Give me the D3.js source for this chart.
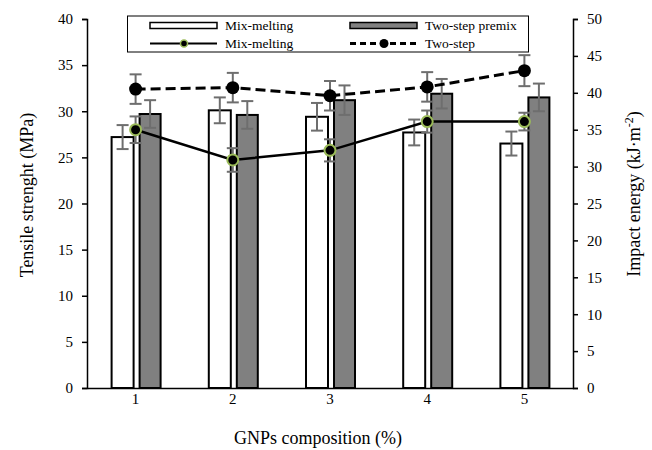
<!DOCTYPE html>
<html>
<head>
<meta charset="utf-8">
<script src="https://cdn.jsdelivr.net/npm/d3@7"></script>
<style>
  body { margin: 0; background: #fff; }
</style>
</head>
<body>
<div id="plot"></div>
<script>
// data
const categories = ["1", "2", "3", "4", "5"];
const mixBar = [27.2, 30.1, 29.4, 27.7, 26.5];
const mixBarErr = [1.3, 1.4, 1.5, 1.4, 1.3];
const twoBar = [29.7, 29.6, 31.2, 31.9, 31.5];
const twoBarErr = [1.5, 1.5, 1.6, 1.6, 1.5];
const mixLine = [35.0, 30.9, 32.2, 36.1, 36.1];
const mixLineErr = [1.8, 1.6, 1.5, 1.5, 1.2];
const twoLine = [40.5, 40.7, 39.6, 40.8, 43.0];
const twoLineErr = [2.0, 2.0, 2.0, 2.0, 2.1];
const leftTicks = [0, 5, 10, 15, 20, 25, 30, 35, 40];
const rightTicks = [0, 5, 10, 15, 20, 25, 30, 35, 40, 45, 50];

const width = 652;
const height = 450;
const margin = {top: 19, right: 79, bottom: 62, left: 87};
const serif = "'Liberation Serif', 'Times New Roman', Times, serif";

const svg = d3.select("div#plot")
    .append("svg")
    .attr("width", width)
    .attr("height", height);

const x = d3.scaleBand()
    .domain(categories)
    .range([margin.left, width - margin.right]);

const yL = d3.scaleLinear().domain([0, 40]).range([height - margin.bottom, margin.top]);
const yR = d3.scaleLinear().domain([0, 50]).range([height - margin.bottom, margin.top]);

const grey = "#808080";
const errColor = "#6e6e6e";
const green = "#9bbb59";
const cx = d => x(d) + x.bandwidth() / 2;

// bars
const bars = svg.append("g");
bars.selectAll("rect.mix")
    .data(categories)
    .enter()
    .append("rect")
    .attr("x", d => cx(d) - 24)
    .attr("width", 22)
    .attr("y", (d, i) => yL(mixBar[i]))
    .attr("height", (d, i) => yL(0) - yL(mixBar[i]))
    .style("fill", "#fff")
    .style("stroke", "#000")
    .style("stroke-width", 2);

bars.selectAll("rect.two")
    .data(categories)
    .enter()
    .append("rect")
    .attr("x", d => cx(d) + 4)
    .attr("width", 21)
    .attr("y", (d, i) => yL(twoBar[i]))
    .attr("height", (d, i) => yL(0) - yL(twoBar[i]))
    .style("fill", grey)
    .style("stroke", "#000")
    .style("stroke-width", 2);

// error bar helper
function errorBars(xs, vals, errs, scale, cap) {
    const g = svg.append("g")
        .style("stroke", errColor)
        .style("stroke-width", 2);
    vals.forEach(function(v, i) {
        const xx = xs[i];
        const top = scale(v + errs[i]);
        const bot = scale(v - errs[i]);
        g.append("line").attr("x1", xx).attr("x2", xx).attr("y1", top).attr("y2", bot);
        g.append("line").attr("x1", xx - cap).attr("x2", xx + cap).attr("y1", top).attr("y2", top);
        g.append("line").attr("x1", xx - cap).attr("x2", xx + cap).attr("y1", bot).attr("y2", bot);
    });
}

errorBars(categories.map(d => cx(d) - 13), mixBar, mixBarErr, yL, 6);
errorBars(categories.map(d => cx(d) + 14.5), twoBar, twoBarErr, yL, 6);
errorBars(categories.map(cx), mixLine, mixLineErr, yR, 6);
errorBars(categories.map(cx), twoLine, twoLineErr, yR, 6);

// lines
const lineGen = scale => d3.line()
    .x((d, i) => cx(categories[i]))
    .y(d => scale(d));

svg.append("path")
    .datum(mixLine)
    .attr("d", lineGen(yR))
    .style("fill", "none")
    .style("stroke", "#000")
    .style("stroke-width", 2.5);

svg.append("path")
    .datum(twoLine)
    .attr("d", lineGen(yR))
    .style("fill", "none")
    .style("stroke", "#000")
    .style("stroke-width", 3)
    .style("stroke-dasharray", "10,5");

svg.append("g")
    .selectAll("circle")
    .data(mixLine)
    .enter()
    .append("circle")
    .attr("cx", (d, i) => cx(categories[i]))
    .attr("cy", d => yR(d))
    .attr("r", 5.5)
    .style("fill", "#000")
    .style("stroke", green)
    .style("stroke-width", 2);

svg.append("g")
    .selectAll("circle")
    .data(twoLine)
    .enter()
    .append("circle")
    .attr("cx", (d, i) => cx(categories[i]))
    .attr("cy", d => yR(d))
    .attr("r", 6.5)
    .style("fill", "#000");

// axes
const leftAxis = svg.append("g")
    .attr("transform", `translate(${margin.left},0)`)
    .call(d3.axisLeft(yL).tickValues(leftTicks).tickSize(5).tickPadding(9));

const rightAxis = svg.append("g")
    .attr("transform", `translate(${width - margin.right},0)`)
    .call(d3.axisRight(yR).tickValues(rightTicks).tickSize(5).tickPadding(9));

const bottomAxis = svg.append("g")
    .attr("transform", `translate(0,${height - margin.bottom})`)
    .call(d3.axisBottom(x).tickSize(0).tickPadding(5));

[leftAxis, rightAxis, bottomAxis].forEach(function(a) {
    a.attr("font-family", null).attr("font-size", null);
    a.selectAll("text").style("font-size", "15px").style("fill", "#000");
    a.select(".domain").style("stroke", "#000").style("stroke-width", 1.5);
    a.selectAll(".tick line").style("stroke", "#000").style("stroke-width", 1.5);
});

// axis titles
svg.append("text")
    .attr("transform", "translate(33,195) rotate(-90)")
    .attr("text-anchor", "middle")
    .style("font-size", "18px")
    .text("Tensile strenght (MPa)");

const rt = svg.append("text")
    .attr("transform", "translate(640,194) rotate(-90)")
    .attr("text-anchor", "middle")
    .style("font-size", "18px");
rt.append("tspan").text("Impact energy (kJ·m");
rt.append("tspan").attr("dy", -7).style("font-size", "12px").text("-2");
rt.append("tspan").attr("dy", 7).text(")");

svg.append("text")
    .attr("x", 318)
    .attr("y", 444)
    .attr("text-anchor", "middle")
    .style("font-size", "18px")
    .text("GNPs composition (%)");

// legend
const legend = svg.append("g");
legend.append("rect")
    .attr("x", 127.5).attr("y", 16)
    .attr("width", 401).attr("height", 36)
    .style("fill", "#fff")
    .style("stroke", "#000")
    .style("stroke-width", 1);

const legendItems = [
    {label: "Mix-melting", kind: "bar", fill: "#fff", x: 150, y: 25.5},
    {label: "Two-step premix", kind: "bar", fill: grey, x: 350, y: 25.5},
    {label: "Mix-melting", kind: "mixline", x: 150, y: 43.5},
    {label: "Two-step", kind: "twoline", x: 350, y: 43.5}
];

legendItems.forEach(function(d) {
    if (d.kind === "bar") {
        legend.append("rect")
            .attr("x", d.x).attr("y", d.y - 3)
            .attr("width", 67).attr("height", 6)
            .style("fill", d.fill)
            .style("stroke", "#000")
            .style("stroke-width", 1.5);
    } else if (d.kind === "mixline") {
        legend.append("line")
            .attr("x1", d.x).attr("x2", d.x + 67).attr("y1", d.y).attr("y2", d.y)
            .style("stroke", "#000").style("stroke-width", 2);
        legend.append("circle")
            .attr("cx", d.x + 34).attr("cy", d.y).attr("r", 3.5)
            .style("fill", "#000").style("stroke", green).style("stroke-width", 1.5);
    } else {
        legend.append("line")
            .attr("x1", d.x).attr("x2", d.x + 69).attr("y1", d.y).attr("y2", d.y)
            .style("stroke", "#000").style("stroke-width", 3)
            .style("stroke-dasharray", "6,4");
        legend.append("circle")
            .attr("cx", d.x + 34).attr("cy", d.y).attr("r", 4.5)
            .style("fill", "#000");
    }
    legend.append("text")
        .attr("x", d.x + 75).attr("y", d.y + 4.5)
        .style("font-size", "13.5px")
        .text(d.label);
});

// serif type everywhere
svg.selectAll("text").style("font-family", serif);
</script>
</body>
</html>
